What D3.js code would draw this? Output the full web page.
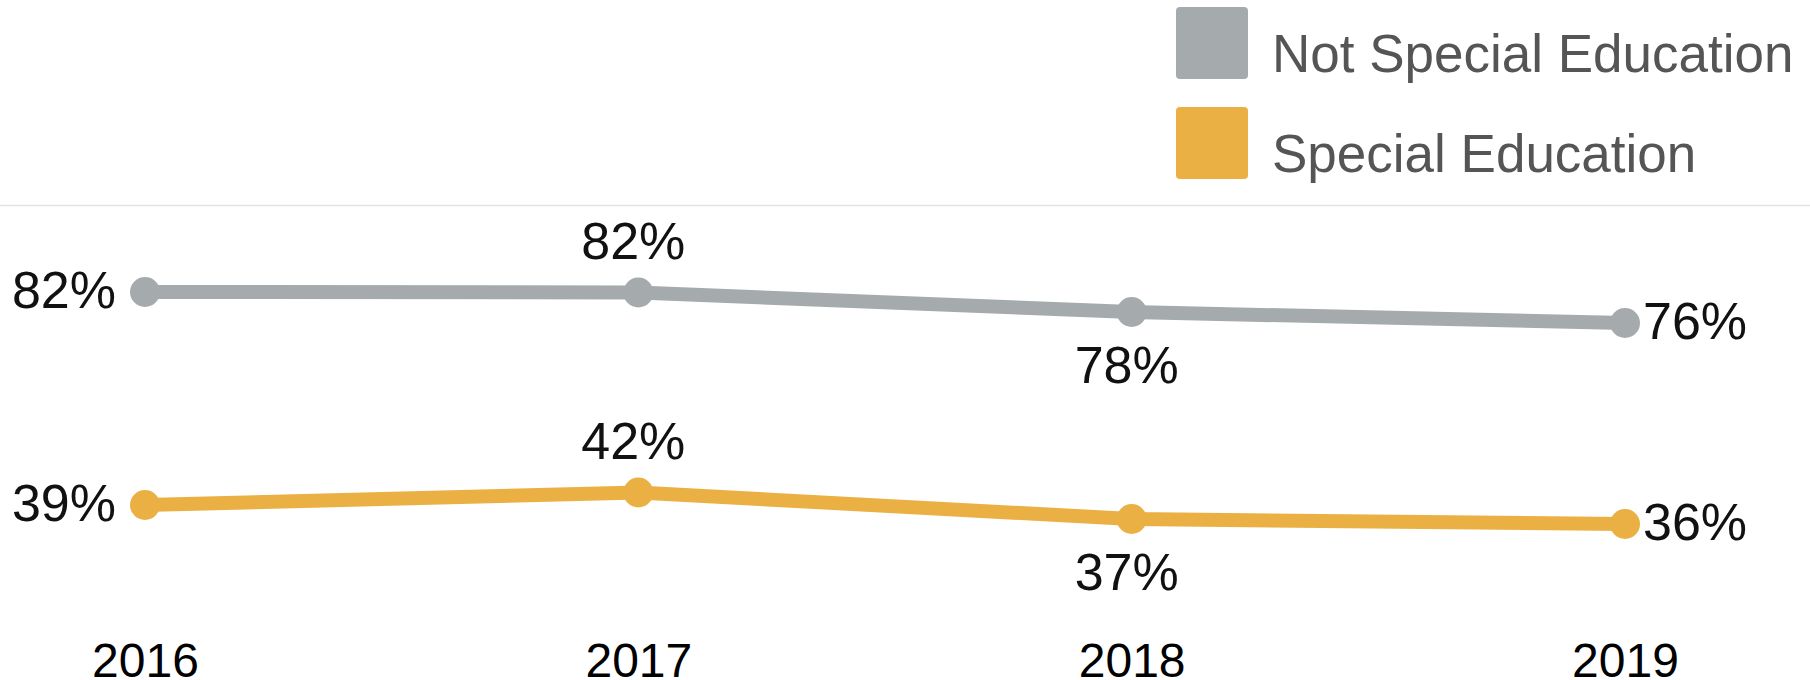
<!DOCTYPE html>
<html><head><meta charset="utf-8">
<script src="https://cdn.jsdelivr.net/npm/d3@7"></script>
<style>html,body{margin:0;padding:0;background:#fff;}svg{display:block;font-family:"Liberation Sans",Arial,sans-serif;}</style>
</head><body>
<svg id="chart" width="1810" height="680"></svg>
<script>
const years = ["2016", "2017", "2018", "2019"];
const seriesNames = ["Not Special Education", "Special Education"];
const notSpecialEd = [82.0, 81.9, 78.0, 75.8];
const specialEd = [39.4, 41.9, 36.6, 35.6];
const seriesColors = ["#a5abad", "#ebb043"];

const svg = d3.select("#chart");
const W = 1810, H = 680;

const x = d3.scalePoint().domain(years).range([145, 1625]);
const y = d3.scaleLinear().domain([0, 100]).range([702, 202]);

// top rule
svg.append("line").attr("x1", 0).attr("x2", W).attr("y1", 205.5).attr("y2", 205.5)
  .attr("stroke", "#e3e3e3").attr("stroke-width", 1.5);

// x axis labels
const xAxis = d3.axisBottom(x).tickSize(0).tickPadding(0);
const gx = svg.append("g").attr("transform", "translate(0,643)").call(xAxis);
gx.select(".domain").remove();
gx.selectAll("text").attr("font-size", 48).attr("fill", "#000")
  .attr("font-family", '"Liberation Sans",Arial,sans-serif').attr("dy", "0.71em");

const series = [
  {name: seriesNames[0], values: notSpecialEd, color: seriesColors[0]},
  {name: seriesNames[1], values: specialEd, color: seriesColors[1]}
];

const line = d3.line().x((d, i) => x(years[i])).y(d => y(d));

series.forEach(s => {
  const g = svg.append("g");
  g.append("path").attr("d", line(s.values)).attr("fill", "none")
    .attr("stroke", s.color).attr("stroke-width", 14).attr("stroke-linejoin", "round");
  g.selectAll("circle").data(s.values).join("circle")
    .attr("cx", (d, i) => x(years[i])).attr("cy", d => y(d)).attr("r", 15)
    .attr("fill", s.color);
  g.selectAll("text").data(s.values).join("text")
    .attr("font-size", 52).attr("fill", "#111")
    .attr("x", (d, i) => {
      const px = x(years[i]);
      if (i === 0) return px - 29;
      if (i === years.length - 1) return px + 18;
      return px - 5;
    })
    .attr("y", (d, i) => {
      const py = y(d);
      if (i === 1) return py - 34;
      if (i === 2) return py + 71;
      return py + 16;
    })
    .attr("text-anchor", (d, i) => i === 0 ? "end" : (i === years.length - 1 ? "start" : "middle"))
    .text(d => Math.round(d) + "%");
});

// legend with white background
const lg = svg.append("g");
lg.append("rect").attr("x", 1146).attr("y", 0).attr("width", W - 1146).attr("height", 200).attr("fill", "#fff");
series.forEach((s, i) => {
  lg.append("rect").attr("x", 1176).attr("y", 7 + i * 100).attr("width", 72).attr("height", 72)
    .attr("rx", 4).attr("fill", s.color);
  lg.append("text").attr("x", 1272).attr("y", 72 + i * 100).attr("font-size", 53)
    .attr("fill", "#555").text(s.name);
});
</script>
</body></html>
